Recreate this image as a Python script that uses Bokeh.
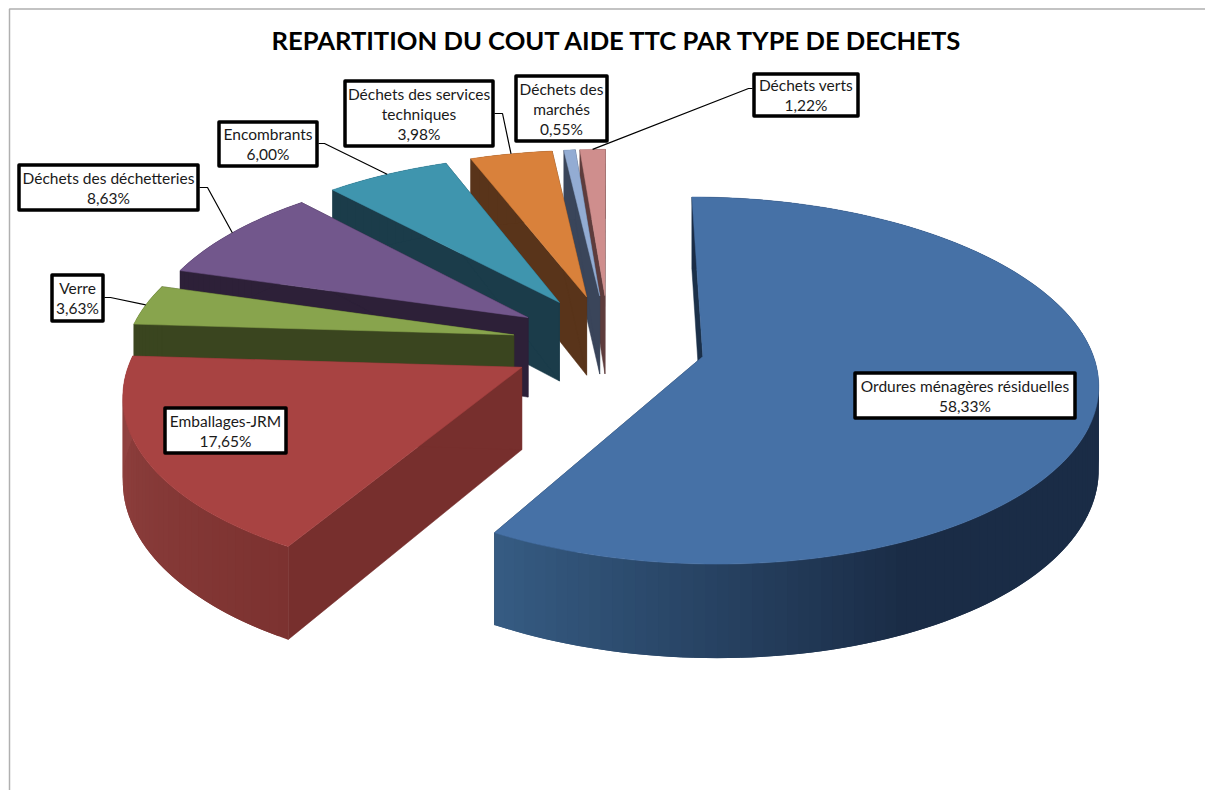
import math
from bokeh.plotting import figure
from bokeh.embed import file_html
from bokeh.resources import INLINE
from bokeh.core.properties import value

# ---- data
categories = ["Ordures ménagères résiduelles", "Emballages-JRM", "Verre", "Déchets des déchetteries",
              "Encombrants", "Déchets des services techniques", "Déchets des marchés", "Déchets verts"]
shares = [58.33, 17.65, 3.63, 8.63, 6.00, 3.98, 0.55, 1.22]
share_labels = ["58,33%", "17,65%", "3,63%", "8,63%", "6,00%", "3,98%", "0,55%", "1,22%"]
title = "REPARTITION DU COUT AIDE TTC PAR TYPE DE DECHETS"

# ---- styles
top_colors = ["#4671a6", "#a84342", "#88a44d", "#72578c", "#3f95ae", "#d9813b", "#93acd3", "#cf8e8d"]
wall_colors = ["#1b3049", "#772f2d", "#3a451f", "#2d2038", "#1b3c4a", "#59341a", "#3a455a", "#5e3c3c"]
rim_dark = ["#1a2c46", "#7c3230", "#3a451f", "#2d2038", "#1b3c4a", "#59341a", "#3a455a", "#5e3c3c"]
rim_light = ["#365c83", "#914240", "#3a451f", "#2d2038", "#1b3c4a", "#59341a", "#3a455a", "#5e3c3c"]

# ---- layout of each label: box (l, t, r, b), text lines, leader elbow (or none)
boxes = [(853, 371, 1076, 419), (163, 406, 287, 454), (50, 273, 104, 322), (17, 163, 199, 211),
         (217, 120, 318, 167), (343, 79, 494, 147), (514, 74, 608, 142), (752, 72, 859, 117)]
wrapped = [[categories[0]], [categories[1]], [categories[2]], [categories[3]], [categories[4]],
           ["Déchets des services", "techniques"], ["Déchets des", "marchés"], [categories[7]]]
elbows = [None, None, [(104, 297), (110, 297)], [(199, 187), (207, 187)], [(318, 143), (324, 143)],
          [(494, 113), (502, 113)], None, [(752, 88), (748, 88)]]

# ---- projection of the exploded 3D pie
CX, CY, AX, BY, K, DEPTH, EX, EY = 608, 343, 387, 177, 0.13, 81, 0.25, 0.28


def project(X, Y, z=0.0):
    w = 1 + K * Y
    return CX + AX * X / w, CY - BY * Y / w + DEPTH * z / w


def mix(c1, c2, t):
    a = [int(c1[i:i + 2], 16) for i in (1, 3, 5)]
    b = [int(c2[i:i + 2], 16) for i in (1, 3, 5)]
    return "#%02x%02x%02x" % tuple(round(p + (q - p) * t) for p, q in zip(a, b))


p = figure(width=1205, height=790, x_range=(0, 1205), y_range=(790, 0), toolbar_location=None,
           output_backend="svg", min_border=0, outline_line_color=None)
p.axis.visible = False
p.grid.visible = False

# frame
p.line([9, 9, 1205], [790, 8.5, 8.5], line_color="#b0b0b0", line_width=1.5)

starts, total = [], 0.0
for s in shares:
    starts.append(total)
    total += s
scale = 360.0 / total

anchors = {}
for i in [7, 6, 5, 4, 3, 2, 1, 0]:
    a0 = math.radians(starts[i] * scale)
    a1 = math.radians((starts[i] + shares[i]) * scale)
    am = (a0 + a1) / 2
    ox, oy = EX * math.sin(am), EY * math.cos(am)
    n = max(2, int(math.degrees(a1 - a0) / 1.5))
    angles = [a0 + (a1 - a0) * j / n for j in range(n + 1)]
    outer = [(ox + math.sin(t), oy + math.cos(t)) for t in angles]
    tip = (ox, oy)
    anchors[i] = project(ox + math.sin(am), oy + math.cos(am))
    # radial walls
    for e in (outer[0], outer[-1]):
        q = [project(*tip), project(*e), project(*e, 1), project(*tip, 1)]
        p.patch([v[0] for v in q], [v[1] for v in q], fill_color=wall_colors[i],
                line_color=wall_colors[i], line_width=0.5)
    # outer rim, painted strip by strip, each one overlapping the next
    for j in range(n):
        mid = math.degrees((angles[j] + angles[j + 1]) / 2)
        t = min(1.0, max(0.0, (mid - 155) / 55 if i == 0 else (mid - 210) / 60))
        col = mix(rim_dark[i], rim_light[i], t)
        far = outer[min(j + 2, n)]
        q = [project(*outer[j]), project(*far), project(*far, 1), project(*outer[j], 1)]
        p.patch([v[0] for v in q], [v[1] for v in q], fill_color=col, line_color=None)
    # top face
    q = [project(*tip)] + [project(*e) for e in outer]
    p.patch([v[0] for v in q], [v[1] for v in q], fill_color=top_colors[i], line_color=top_colors[i],
            line_width=0.5)

# leaders
for i, el in enumerate(elbows):
    if el:
        xs = [v[0] for v in el] + [anchors[i][0]]
        ys = [v[1] for v in el] + [anchors[i][1]]
        p.line(xs, ys, line_color="black", line_width=1.2)

# labels
for i, (l, t, r, b) in enumerate(boxes):
    p.quad(left=[l + 1.5], right=[r - 1.5], top=[t + 1.5], bottom=[b - 1.5], fill_color="white",
           line_color="black", line_width=3.5, line_join="round")
    lines = wrapped[i] + [share_labels[i]]
    mid_x, mid_y = (l + r) / 2, (t + b) / 2
    for j, txt in enumerate(lines):
        p.text([mid_x], [mid_y + (j - (len(lines) - 1) / 2) * 20], text=[txt], text_align="center",
               text_baseline="middle", text_font=value("Lato"), text_font_size="15.5px", text_color="#1a1a1a")

p.text([617], [39], text=[title], text_align="center", text_baseline="middle", text_font=value("Lato"),
       text_font_size="25.6px", text_font_style="bold", text_color="black")

open("out.html", "w").write(file_html(p, INLINE))
